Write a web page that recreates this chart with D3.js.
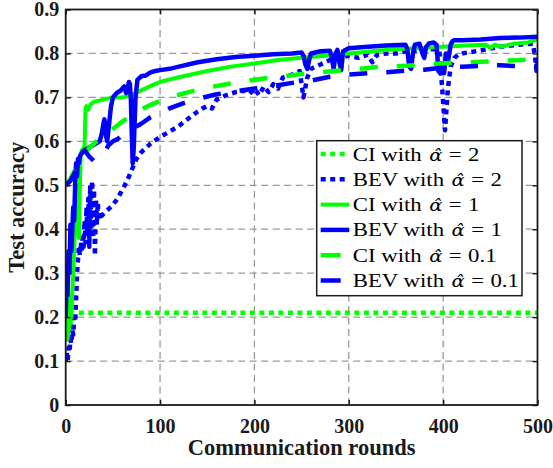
<!DOCTYPE html>
<html><head><meta charset="utf-8">
<script src="https://cdn.jsdelivr.net/npm/d3@7/dist/d3.min.js"></script>
<style>body{margin:0;background:#fff}</style>
</head><body><svg id="c" width="553" height="468"></svg>
<script>
// ---------- data ----------
const xTicks = [0,100,200,300,400,500];
const yTicks = [0,0.1,0.2,0.3,0.4,0.5,0.6,0.7,0.8,0.9];
const xTickLabels = ["0","100","200","300","400","500"];
const yTickLabels = ["0","0.1","0.2","0.3","0.4","0.5","0.6","0.7","0.8","0.9"];

const ci2X = [0,1,2,3,4,5,6,7,8,9,10,11,12,14,500];
const ci2Y = [0.18,0.15,0.17,0.14,0.16,0.19,0.17,0.2,0.19,0.21,0.2,0.21,0.21,0.21,0.21];

const bev2X = [0,1,2,3,4,5,6,7,8,9,10,11,12,13,14,15,16,17,18,19,20,21,22,23,24,25,26,27,28,29,30,31,32,33,34,35,36,38,40,45,50,55,60,65,70,75,80,90,100,110,120,130,140,145,150,155,160,170,180,190,195,200,205,210,215,220,225,230,240,248,252,256,260,270,280,290,300,310,320,325,330,340,350,360,370,380,390,396,399,402,405,408,412,416,420,440,460,480,495,497,499,500];
const bev2Y = [0.10,0.12,0.10,0.13,0.12,0.15,0.14,0.17,0.16,0.2,0.19,0.24,0.3,0.33,0.36,0.34,0.37,0.35,0.39,0.36,0.42,0.37,0.45,0.39,0.47,0.36,0.5,0.4,0.51,0.38,0.49,0.34,0.47,0.41,0.46,0.42,0.44,0.43,0.435,0.445,0.455,0.47,0.49,0.51,0.535,0.56,0.575,0.595,0.61,0.622,0.635,0.652,0.668,0.675,0.68,0.675,0.695,0.705,0.712,0.715,0.708,0.72,0.705,0.725,0.712,0.73,0.72,0.745,0.752,0.76,0.70,0.745,0.765,0.775,0.785,0.79,0.795,0.79,0.797,0.78,0.797,0.80,0.80,0.805,0.806,0.808,0.81,0.805,0.72,0.625,0.72,0.77,0.79,0.798,0.80,0.807,0.815,0.82,0.822,0.80,0.76,0.78];

const ci1X = [0,1,2,3,4,5,6,7,8,9,10,11,12,13,14,15,16,17,18,19,20,21,22,24,26,30,40,50,60,70,80,90,100,120,150,175,200,225,250,275,300,325,350,375,400,425,445,450,455,460,475,490,500];
const ci1Y = [0.28,0.2,0.15,0.18,0.21,0.25,0.2,0.26,0.3,0.36,0.41,0.46,0.5,0.43,0.38,0.5,0.57,0.58,0.58,0.585,0.59,0.675,0.68,0.672,0.683,0.69,0.695,0.70,0.70,0.705,0.716,0.726,0.735,0.746,0.76,0.77,0.777,0.785,0.79,0.795,0.80,0.805,0.81,0.812,0.815,0.818,0.82,0.812,0.82,0.815,0.822,0.825,0.832];

const bev1X = [0,1,2,3,4,5,6,7,8,9,10,11,12,13,14,15,16,18,20,24,28,32,36,38,40,41,42,43,44,46,48,50,54,58,62,64,66,67,68,69,70,71,72,74,76,80,85,90,95,100,110,120,140,160,180,200,220,240,250,252,254,256,258,260,270,280,282,284,286,288,290,292,294,300,320,340,360,362,364,366,368,370,375,378,380,382,385,390,393,395,397,399,401,403,405,408,410,412,420,440,460,480,500];
const bev1Y = [0.2,0.3,0.25,0.35,0.3,0.41,0.35,0.4,0.45,0.42,0.5,0.55,0.52,0.56,0.55,0.565,0.57,0.575,0.58,0.585,0.59,0.595,0.60,0.615,0.64,0.65,0.64,0.61,0.60,0.64,0.68,0.70,0.71,0.715,0.725,0.71,0.725,0.735,0.73,0.70,0.62,0.55,0.58,0.70,0.74,0.748,0.75,0.757,0.76,0.762,0.765,0.77,0.78,0.787,0.792,0.795,0.798,0.80,0.802,0.795,0.775,0.765,0.785,0.80,0.805,0.806,0.79,0.765,0.80,0.808,0.78,0.762,0.805,0.812,0.815,0.818,0.82,0.81,0.77,0.765,0.80,0.82,0.822,0.80,0.79,0.815,0.823,0.825,0.82,0.76,0.755,0.77,0.755,0.80,0.78,0.82,0.828,0.83,0.83,0.832,0.835,0.836,0.838];

const ci01X = [0,5,10,15,20,25,30,40,50,60,70,80,90,100,115,130,150,170,190,210,230,250,270,290,310,330,350,370,390,410,430,450,470,490,500];
const ci01Y = [0.5,0.515,0.535,0.56,0.575,0.585,0.595,0.612,0.628,0.645,0.66,0.672,0.683,0.692,0.703,0.712,0.722,0.73,0.737,0.743,0.748,0.753,0.757,0.761,0.765,0.769,0.771,0.773,0.776,0.779,0.78,0.782,0.784,0.786,0.787];

const bev01X = [0,5,10,13,15,20,25,30,35,40,45,50,55,60,70,80,90,100,110,125,140,160,180,200,220,240,260,280,300,320,340,360,380,400,420,440,460,480,500];
const bev01Y = [0.5,0.51,0.53,0.555,0.57,0.58,0.565,0.555,0.56,0.57,0.59,0.6,0.605,0.615,0.628,0.64,0.655,0.665,0.675,0.687,0.697,0.707,0.714,0.72,0.726,0.733,0.738,0.747,0.752,0.755,0.757,0.761,0.763,0.768,0.77,0.772,0.773,0.771,0.77];

const seriesNames = ["CI with", "BEV with", "CI with", "BEV with", "CI with", "BEV with"];
const alphaValues = ["2", "2", "1", "1", "0.1", "0.1"];

// ---------- styles ----------
const GREEN = "#00ff00", BLUE = "#0000ff";
const styles = [
  {c: GREEN, w: 4.5, dash: "5,4.5", legDash: "5,4.5", legLen: 25},
  {c: BLUE,  w: 4.5, dash: "5,4.5", legDash: "5,4.5", legLen: 25},
  {c: GREEN, w: 4,   dash: null,   legDash: null, legLen: 28.6},
  {c: BLUE,  w: 4.5, dash: null,   legDash: null, legLen: 28.6},
  {c: GREEN, w: 4.5, dash: "18,19", legDash: null, legLen: 20},
  {c: BLUE,  w: 4.5, dash: "18,19", legDash: null, legLen: 20}
];

const series = [[ci2X,ci2Y],[bev2X,bev2Y],[ci1X,ci1Y],[bev1X,bev1Y],[ci01X,ci01Y],[bev01X,bev01Y]];

// ---------- chart ----------
const svg = d3.select("#c");
const L = 65.7, R = 537.5, T = 9.5, B = 405;
const x = d3.scaleLinear().domain([0,500]).range([L,R]);
const y = d3.scaleLinear().domain([0,0.9]).range([B,T]);
const AX = "#1a1a1a";

// grid
const grid = svg.append("g").attr("stroke","#999").attr("stroke-width",1.3).attr("stroke-dasharray","7,4.5");
grid.selectAll("line.v").data(xTicks.slice(1,-1)).join("line")
  .attr("x1",d=>x(d)).attr("x2",d=>x(d)).attr("y1",B).attr("y2",T);
grid.selectAll("line.h").data(yTicks.slice(1,-1)).join("line")
  .attr("y1",d=>y(d)).attr("y2",d=>y(d)).attr("x1",L).attr("x2",R);

// clip
svg.append("clipPath").attr("id","clip").append("rect")
  .attr("x",L).attr("y",T).attr("width",R-L).attr("height",B-T);

const lineGen = d3.line().x(d=>x(d[0])).y(d=>y(d[1]));
const plot = svg.append("g").attr("clip-path","url(#clip)");
series.forEach((s,i)=>{
  const pts = s[0].map((v,j)=>[v, s[1][j]]);
  const st = styles[i];
  plot.append("path").datum(pts).attr("d",lineGen)
    .attr("fill","none").attr("stroke",st.c).attr("stroke-width",st.w)
    .attr("stroke-linejoin","round")
    .attr("stroke-dasharray",st.dash);
});

// axes
const fontTick = "'Liberation Serif','Times New Roman',serif";
const xAxis = d3.axisBottom(x).tickValues(xTicks).tickFormat((d,i)=>xTickLabels[i]).tickSize(-5).tickPadding(13.5);
const yAxis = d3.axisLeft(y).tickValues(yTicks).tickFormat((d,i)=>yTickLabels[i]).tickSize(-5).tickPadding(6.5);
const gx = svg.append("g").attr("transform",`translate(0,${B})`).call(xAxis);
const gy = svg.append("g").attr("transform",`translate(${L},0)`).call(yAxis);
const gx2 = svg.append("g").attr("transform",`translate(0,${T})`).call(d3.axisTop(x).tickValues(xTicks).tickSize(-5).tickFormat(""));
const gy2 = svg.append("g").attr("transform",`translate(${R},0)`).call(d3.axisRight(y).tickValues(yTicks).tickSize(-5).tickFormat(""));
[gx,gy,gx2,gy2].forEach(g=>{
  g.select(".domain").remove();
  g.selectAll(".tick line").attr("stroke",AX).attr("stroke-width",1.5);
  g.selectAll(".tick text").attr("fill",AX).attr("font-family",fontTick).attr("font-weight","bold").attr("font-size",20);
});
svg.append("rect").attr("x",L).attr("y",T).attr("width",R-L).attr("height",B-T)
  .attr("fill","none").attr("stroke",AX).attr("stroke-width",1.8);

// axis titles
svg.append("text").attr("x",(L+R)/2).attr("y",455).attr("text-anchor","middle")
  .attr("font-family",fontTick).attr("font-weight","bold").attr("font-size",22.5).attr("fill",AX)
  .text("Communication rounds");
svg.append("text").attr("transform",`translate(24,${(T+B)/2}) rotate(-90)`).attr("text-anchor","middle")
  .attr("font-family",fontTick).attr("font-weight","bold").attr("font-size",22.5).attr("fill",AX)
  .text("Test accuracy");

// legend
const lg = svg.append("g");
lg.append("rect").attr("x",316.7).attr("y",140.7).attr("width",205.3).attr("height",155)
  .attr("fill","#fff").attr("stroke",AX).attr("stroke-width",1.5);
const rowY = i => 154 + i*25.3;
const FS = 19, SX = 1.2;
seriesNames.forEach((nm,i)=>{
  const st = styles[i];
  lg.append("line").attr("x1",320.7).attr("x2",320.7+st.legLen).attr("y1",rowY(i)).attr("y2",rowY(i))
    .attr("stroke",st.c).attr("stroke-width",st.w).attr("stroke-dasharray",st.legDash);
  const g = lg.append("g").attr("transform",`translate(352.7,${rowY(i)+6.5}) scale(${SX},1)`)
    .attr("font-family",fontTick).attr("font-size",FS).attr("fill","#000");
  let cx = 0;
  const t1 = g.append("text").attr("x",cx).text(nm);
  cx += t1.node().getComputedTextLength() + 0.33*FS;
  const ta = g.append("text").attr("x",cx).attr("font-style","italic")
    .attr("font-family","'DejaVu Serif',serif").attr("font-size",FS*0.86).text("\u03B1\u0302");
  const aw = ta.node().getComputedTextLength();
  cx += aw + 0.28*FS;
  const te = g.append("text").attr("x",cx).text("=");
  cx += te.node().getComputedTextLength() + 0.28*FS;
  g.append("text").attr("x",cx).text(alphaValues[i]);
});
</script>
</body></html>
